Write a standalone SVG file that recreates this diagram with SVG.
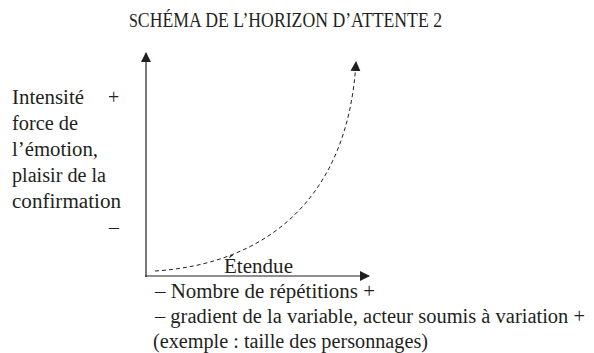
<svg xmlns="http://www.w3.org/2000/svg" width="594" height="353" viewBox="0 0 594 353">
<defs>
<marker id="ah" viewBox="0 0 10 10" refX="9" refY="5" markerWidth="10" markerHeight="10" markerUnits="userSpaceOnUse" orient="auto"><path d="M0,0 L10,5 L0,10 z" fill="#231f20"/></marker>
<marker id="ah2" viewBox="0 0 10 10" refX="9" refY="5" markerWidth="14" markerHeight="10" markerUnits="userSpaceOnUse" orient="auto"><path d="M0,0 L10,5 L0,10 z" fill="#231f20"/></marker>
</defs>
<style>
text{font-family:"Liberation Serif","Times New Roman",serif;fill:#231f20;font-size:20px}
.ax{stroke:#231f20;stroke-width:1.2;fill:none}
.dash{stroke:#231f20;stroke-width:1;fill:none;stroke-dasharray:4 3}
</style>
<rect width="594" height="353" fill="#fff"/>
<g id="title"><text x="129" y="27" font-size="14" textLength="313" lengthAdjust="spacingAndGlyphs"><tspan font-size="18">S</tspan>CHÉMA DE L’HORIZON D’ATTENTE 2</text></g>
<g id="connectors">
<line class="ax" x1="146" y1="277" x2="146" y2="53" marker-end="url(#ah2)"/>
<line class="ax" x1="145" y1="276" x2="369" y2="276" marker-end="url(#ah2)"/>
<path class="dash" d="M155,271 C265,264 348,200 356,62" marker-end="url(#ah)"/>
</g>
<g id="y-label">
<text x="12" y="104" textLength="72" lengthAdjust="spacingAndGlyphs">Intensité</text>
<text x="108" y="104">+</text>
<text x="12" y="130" textLength="66" lengthAdjust="spacingAndGlyphs">force de</text>
<text x="12" y="156" textLength="86" lengthAdjust="spacingAndGlyphs">l’émotion,</text>
<text x="12" y="182" textLength="94" lengthAdjust="spacingAndGlyphs">plaisir de la</text>
<text x="12" y="208" textLength="109" lengthAdjust="spacingAndGlyphs">confirmation</text>
<text x="109" y="234">–</text>
</g>
<g id="x-label">
<text x="224" y="273" textLength="69" lengthAdjust="spacingAndGlyphs">Étendue</text>
<text x="155" y="298" textLength="220" lengthAdjust="spacingAndGlyphs">– Nombre de répétitions +</text>
<text x="155" y="323" textLength="430" lengthAdjust="spacingAndGlyphs">– gradient de la variable, acteur soumis à variation +</text>
<text x="153" y="348" textLength="275" lengthAdjust="spacingAndGlyphs">(exemple : taille des personnages)</text>
</g>
</svg>
